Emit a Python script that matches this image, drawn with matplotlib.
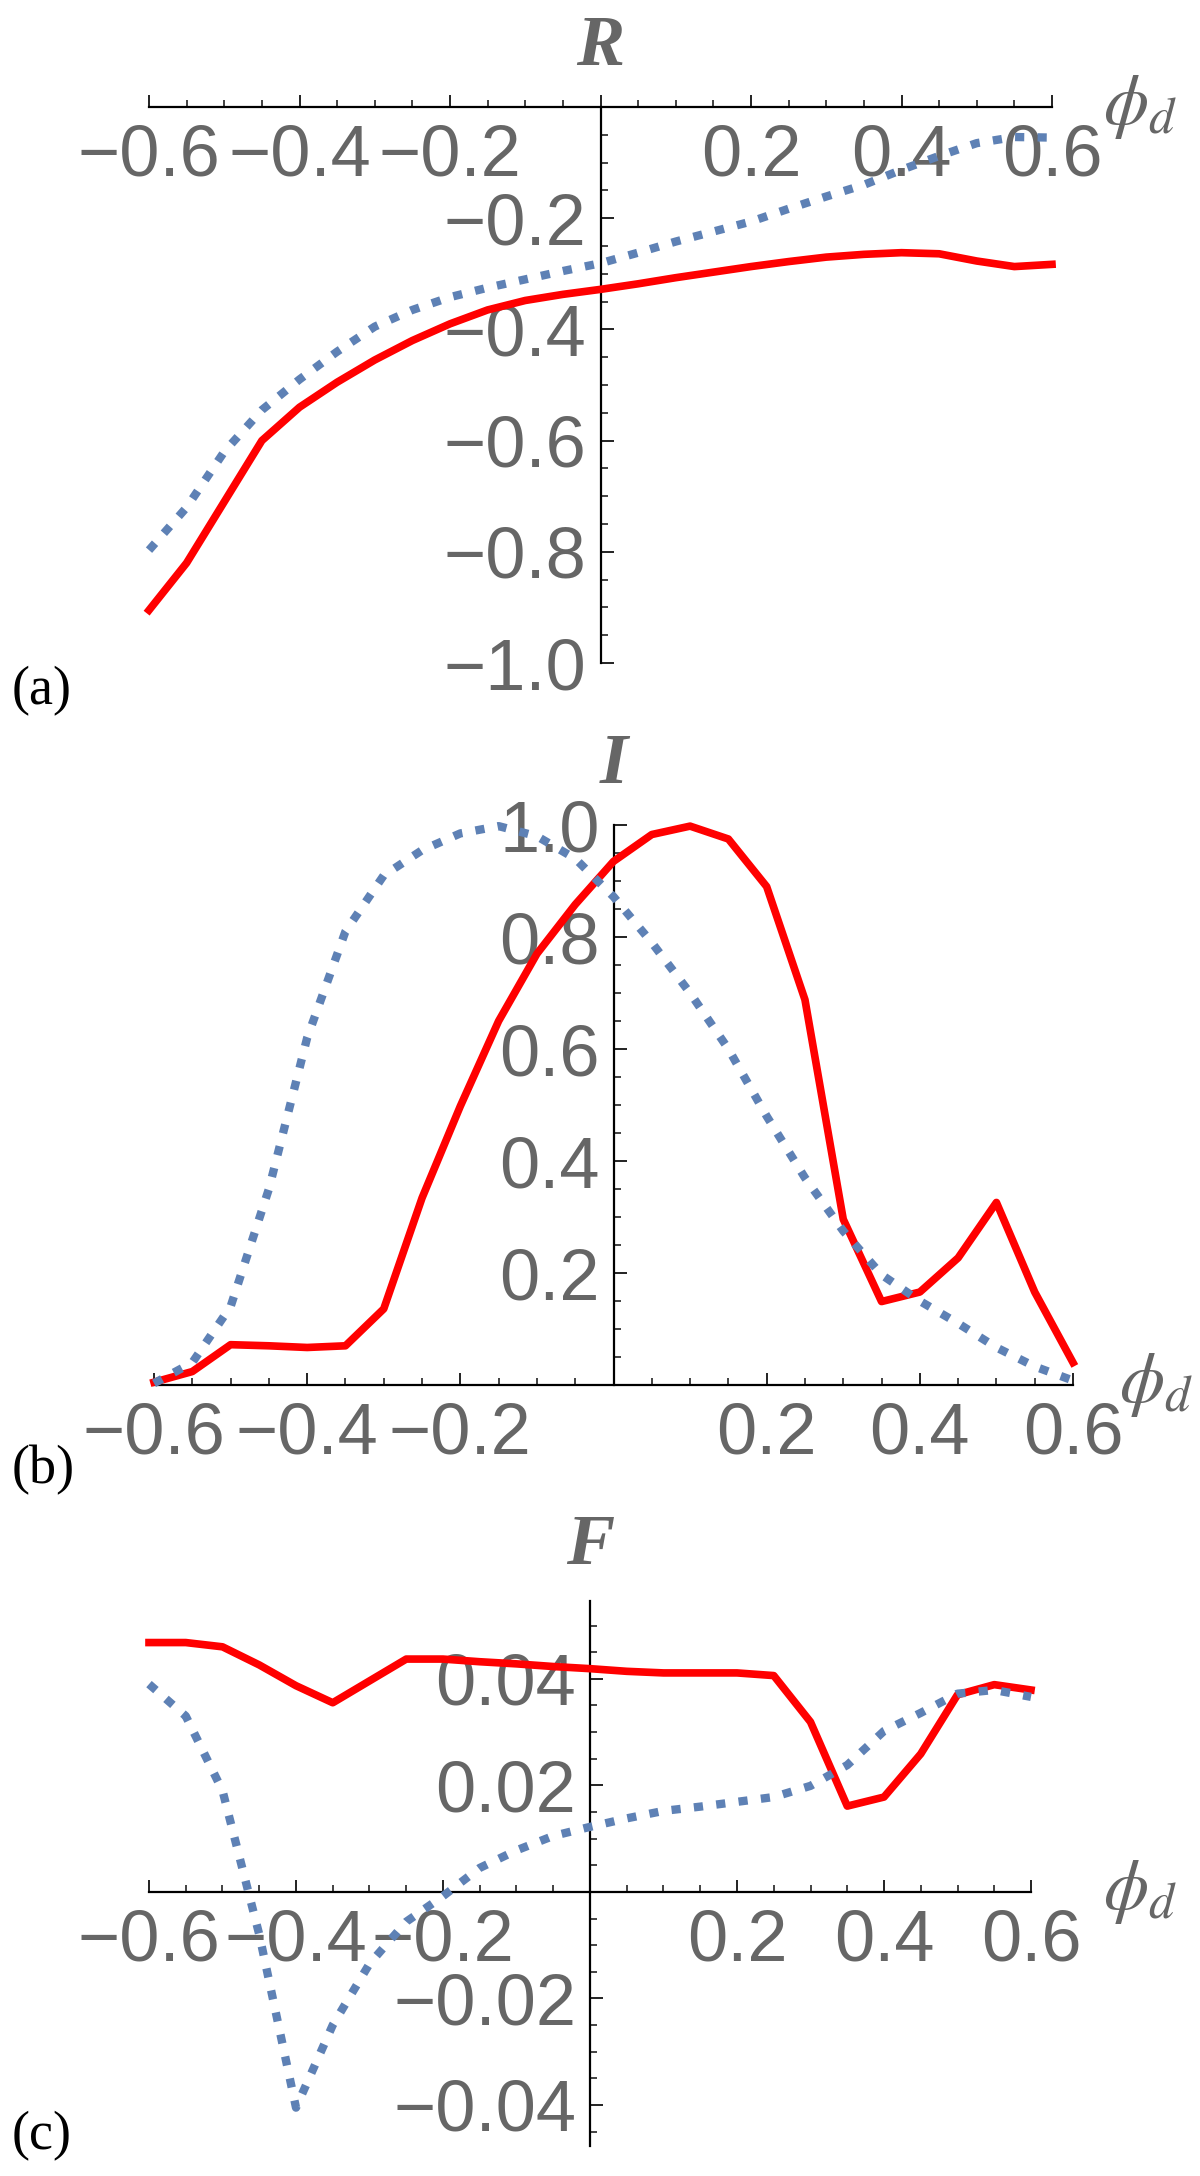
import matplotlib.pyplot as plt
from matplotlib.ticker import MultipleLocator, FuncFormatter

plt.rcParams['font.family'] = ['Liberation Sans', 'DejaVu Sans']

# phi_d grid
phi_d = [-0.6, -0.55, -0.5, -0.45, -0.4, -0.35, -0.3, -0.25, -0.2, -0.15, -0.1, -0.05,
         0.0, 0.05, 0.1, 0.15, 0.2, 0.25, 0.3, 0.35, 0.4, 0.45, 0.5, 0.55, 0.6]

# (a) R
R_red = [-0.905, -0.82, -0.71, -0.60, -0.54, -0.495, -0.455, -0.42, -0.39, -0.365, -0.348, -0.337,
         -0.328, -0.318, -0.307, -0.297, -0.287, -0.278, -0.27, -0.265, -0.262, -0.264, -0.277, -0.287, -0.283]
R_blue = [-0.797, -0.72, -0.62, -0.545, -0.49, -0.44, -0.395, -0.365, -0.342, -0.325, -0.31, -0.295,
          -0.281, -0.262, -0.242, -0.224, -0.206, -0.183, -0.161, -0.14, -0.113, -0.088, -0.065, -0.054, -0.055]

# (b) I
I_red = [0.005, 0.024, 0.072, 0.07, 0.067, 0.07, 0.136, 0.334, 0.498, 0.65, 0.77, 0.858,
         0.935, 0.983, 0.998, 0.975, 0.89, 0.688, 0.296, 0.149, 0.166, 0.227, 0.326, 0.166, 0.04]
I_blue = [0.003, 0.04, 0.14, 0.35, 0.62, 0.81, 0.91, 0.955, 0.985, 0.998, 0.98, 0.94,
          0.872, 0.79, 0.70, 0.60, 0.48, 0.37, 0.275, 0.197, 0.15, 0.11, 0.067, 0.033, 0.008]

# (c) F
F_red = [0.0468, 0.0468, 0.046, 0.0426, 0.0387, 0.0355, 0.0396, 0.0437, 0.0437, 0.0432, 0.0428, 0.0423,
         0.0419, 0.0414, 0.0411, 0.0411, 0.0411, 0.0406, 0.0319, 0.0161, 0.0178, 0.0259, 0.037, 0.0389, 0.0379]
F_blue = [0.039, 0.033, 0.019, -0.008, -0.0405, -0.025, -0.0135, -0.0056, -0.0008, 0.0045, 0.0078, 0.0105,
          0.0122, 0.0138, 0.0152, 0.016, 0.0169, 0.0178, 0.0199, 0.0238, 0.0302, 0.0336, 0.0372, 0.0379, 0.0366]

W, H = 1200, 2176
RED = '#ff0000'
BLUE = '#5e81b5'
GRAY = '#666666'

fig = plt.figure(figsize=(W / 100, H / 100), dpi=100)


def fmt(decimals):
    def f(v, pos):
        if abs(v) < 1e-9:
            return ''
        return f'{v:.{decimals}f}'.replace('-', '\u2212')
    return FuncFormatter(f)


def panel(box, ylim, ymaj, ymin, ydec, red, blue, name, name_off, phi_off, letter, letter_y):
    left, right, top, bottom = box
    ax = fig.add_axes([left / W, 1 - bottom / H, (right - left) / W, (bottom - top) / H])
    ax.set_xlim(-0.6, 0.6)
    ax.set_ylim(*ylim)
    ax.patch.set_alpha(0)
    for s in ['top', 'right']:
        ax.spines[s].set_visible(False)
    ax.spines['left'].set_position(('data', 0))
    ax.spines['bottom'].set_position(('data', 0))
    for s in ['left', 'bottom']:
        ax.spines[s].set_linewidth(1.6)
        ax.spines[s].set_color('black')

    ax.xaxis.set_major_locator(MultipleLocator(0.2))
    ax.xaxis.set_minor_locator(MultipleLocator(0.05))
    ax.yaxis.set_major_locator(MultipleLocator(ymaj))
    ax.yaxis.set_minor_locator(MultipleLocator(ymin))
    ax.xaxis.set_major_formatter(fmt(1))
    ax.yaxis.set_major_formatter(fmt(ydec))
    ax.tick_params(which='major', direction='in', length=9, width=1.4, color='#222222',
                   labelsize=52, labelcolor=GRAY)
    ax.tick_params(which='minor', direction='in', length=5, width=1.2, color='#222222')
    ax.tick_params(axis='x', which='major', pad=12)
    ax.tick_params(axis='y', which='major', pad=10)

    ax.plot(phi_d, red, color=RED, lw=5.5, zorder=3, clip_on=False, solid_joinstyle='round')
    ax.plot(phi_d, blue, color=BLUE, lw=6, zorder=3, clip_on=False,
            linestyle=(0, (1.1, 1.6)), dash_capstyle='butt')

    ax.annotate(name, xy=(0, 1), xycoords=('data', 'axes fraction'), xytext=(0, name_off),
                textcoords='offset points', ha='center', va='baseline', fontsize=52,
                color=GRAY, family='Liberation Serif', weight='bold', style='italic')
    ax.annotate(r'$\phi_d$', xy=(0.6, 0), xycoords='data', xytext=(phi_off, 0),
                textcoords='offset points', ha='left', va='center', fontsize=52,
                color=GRAY, math_fontfamily='stix', annotation_clip=False)
    fig.text(12 / W, 1 - letter_y / H, letter, ha='left', va='center', fontsize=39,
             family='Liberation Serif', color='black')
    return ax


panel((149, 1052, 107, 663), (-1.0, 0.0), 0.2, 0.05, 1, R_red, R_blue, 'R', 30, 37, '(a)', 691)
panel((154, 1073, 825, 1385), (0.0, 1.0), 0.2, 0.05, 1, I_red, I_blue, 'I', 30, 33, '(b)', 1470)
panel((149, 1031, 1601, 2146), (-0.0477, 0.0546), 0.02, 0.005, 2, F_red, F_blue, 'F', 27, 52, '(c)', 2136)

fig.savefig('out.png', dpi=100)
